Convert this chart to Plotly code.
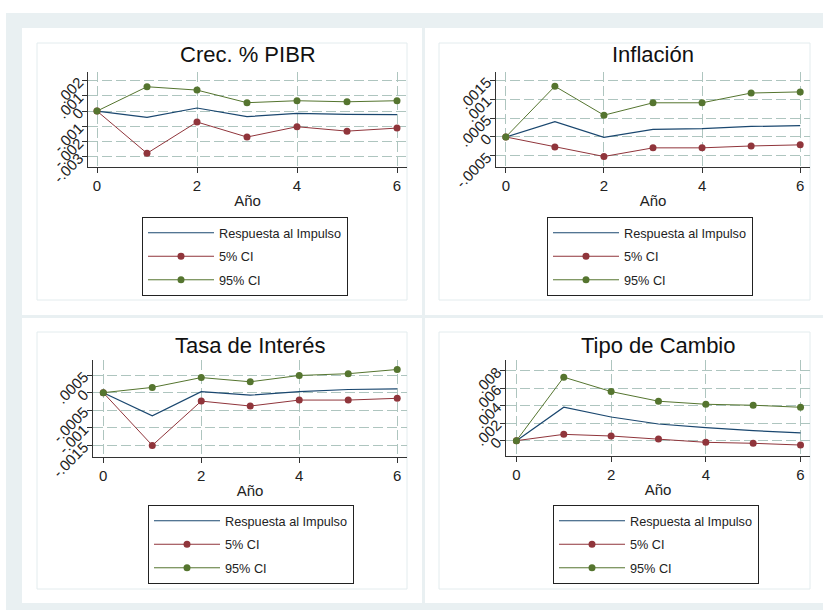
import plotly.graph_objects as go

# Horizon (years after the shock)
anos = [0, 1, 2, 3, 4, 5, 6]

# Crec. % PIBR
pib_irf = [0, -0.00041, 0.0002, -0.00037, -0.00015, -0.00022, -0.00023]
pib_lo = [0, -0.00278, -0.00072, -0.00171, -0.00103, -0.00132, -0.00112]
pib_hi = [0, 0.0016, 0.00138, 0.00055, 0.00068, 0.00061, 0.00068]

# Inflación
inf_irf = [0, 0.00041, -0.00001, 0.0002, 0.00022, 0.00028, 0.0003]
inf_lo = [0, -0.00027, -0.00052, -0.00029, -0.00029, -0.00024, -0.00021]
inf_hi = [0, 0.00135, 0.00058, 0.00091, 0.00091, 0.00117, 0.0012]

# Tasa de Interés
tasa_irf = [0, -0.00066, 0.00003, -0.00007, 0.00003, 0.00009, 0.00011]
tasa_lo = [0, -0.0015, -0.00024, -0.00038, -0.00021, -0.00021, -0.00016]
tasa_hi = [0, 0.00015, 0.00043, 0.00031, 0.00049, 0.00054, 0.00066]

# Tipo de Cambio
tc_irf = [0, 0.00381, 0.0027, 0.0019, 0.00149, 0.00114, 0.00088]
tc_lo = [0, 0.00072, 0.00053, 0.00019, -0.00019, -0.0003, -0.0005]
tc_hi = [0, 0.00724, 0.0056, 0.0045, 0.00415, 0.00404, 0.00381]

# Axis ticks
x_ticks = [0, 2, 4, 6]
pib_yvals = [0.002, 0.001, 0, -0.001, -0.002, -0.003]
pib_ytext = [".002", ".001", "0", "-.001", "-.002", "-.003"]
inf_yvals = [0.0015, 0.001, 0.0005, 0, -0.0005]
inf_ytext = [".0015", ".001", ".0005", "0", "-.0005"]
tasa_yvals = [0.0005, 0, -0.0005, -0.001, -0.0015]
tasa_ytext = [".0005", "0", "-.0005", "-.001", "-.0015"]
tc_yvals = [0.008, 0.006, 0.004, 0.002, 0]
tc_ytext = [".008", ".006", ".004", ".002", "0"]

titles = ["Crec. % PIBR", "Inflación", "Tasa de Interés", "Tipo de Cambio"]
series_names = ["Respuesta al Impulso", "5% CI", "95% CI"]

W, H = 823, 610
NAVY, MAROON, GREEN = "#1a476f", "#90353b", "#55752f"
GRID = "#aec5bf"
BG = "#e9f0f2"
FONT = "Arial, Liberation Sans, sans-serif"


def px_x(v):
    return v / W


def px_y(v):
    return 1 - v / H


# per-panel: data, y ticks, plot box (px), axis ranges, legend corner
panels = [
    dict(data=(pib_irf, pib_lo, pib_hi), yv=pib_yvals, yt=pib_ytext,
         box=(88, 407, 72, 167), xr=[-0.18, 6.2], yr=[-0.00368, 0.00257],
         leg=(142, 217)),
    dict(data=(inf_irf, inf_lo, inf_hi), yv=inf_yvals, yt=inf_ytext,
         box=(496, 810, 72, 167), xr=[-0.2, 6.2], yr=[-0.0008, 0.00173],
         leg=(547, 217)),
    dict(data=(tasa_irf, tasa_lo, tasa_hi), yv=tasa_yvals, yt=tasa_ytext,
         box=(93, 407, 360, 457), xr=[-0.21, 6.2], yr=[-0.00183, 0.00093],
         leg=(148, 505)),
    dict(data=(tc_irf, tc_lo, tc_hi), yv=tc_yvals, yt=tc_ytext,
         box=(506, 810, 360, 456), xr=[-0.22, 6.2], yr=[-0.00175, 0.0092],
         leg=(553, 505)),
]

fig = go.Figure()
layout = dict(
    width=W, height=H, margin=dict(l=0, r=0, t=0, b=0, autoexpand=False),
    paper_bgcolor="white", plot_bgcolor="white",
    font=dict(family=FONT, color="#222"),
    shapes=[], annotations=[],
)

# background frames of the combined graph
layout["shapes"].append(dict(type="rect", xref="paper", yref="paper",
                             x0=px_x(6), x1=1, y0=0, y1=px_y(13),
                             fillcolor=BG, line=dict(width=0), layer="below"))
for (x0, x1, y0, y1) in [(22, 422, 28, 315), (425, 823, 28, 315),
                         (22, 422, 318, 603), (425, 823, 318, 603)]:
    layout["shapes"].append(dict(type="rect", xref="paper", yref="paper",
                                 x0=px_x(x0), x1=px_x(x1), y0=px_y(y1), y1=px_y(y0),
                                 fillcolor="white", line=dict(width=0), layer="below"))
for (x0, x1, y0, y1) in [(37, 407, 43, 300), (439, 810, 43, 300),
                         (37, 407, 332, 589), (439, 810, 332, 589)]:
    layout["shapes"].append(dict(type="rect", xref="paper", yref="paper",
                                 x0=px_x(x0), x1=px_x(x1), y0=px_y(y1), y1=px_y(y0),
                                 fillcolor="rgba(0,0,0,0)",
                                 line=dict(width=1, color="#e3ecee"), layer="below"))

for i, p in enumerate(panels):
    k = i + 1
    xa = "x" if k == 1 else f"x{k}"
    ya = "y" if k == 1 else f"y{k}"
    leg = "legend" if k == 1 else f"legend{k}"
    irf, lo, hi = p["data"]
    fig.add_trace(go.Scatter(x=anos, y=irf, mode="lines", name=series_names[0],
                             line=dict(color=NAVY, width=1.2),
                             xaxis=xa, yaxis=ya, legend=leg,
                             legendgroup=f"g{k}a"))
    fig.add_trace(go.Scatter(x=anos, y=lo, mode="lines+markers", name=series_names[1],
                             line=dict(color=MAROON, width=1),
                             marker=dict(color=MAROON, size=7),
                             xaxis=xa, yaxis=ya, legend=leg,
                             legendgroup=f"g{k}b"))
    fig.add_trace(go.Scatter(x=anos, y=hi, mode="lines+markers", name=series_names[2],
                             line=dict(color=GREEN, width=1),
                             marker=dict(color=GREEN, size=7),
                             xaxis=xa, yaxis=ya, legend=leg,
                             legendgroup=f"g{k}c"))

    bx0, bx1, by0, by1 = p["box"]
    axis_common = dict(showline=True, linecolor="#333", linewidth=1, mirror=False,
                       ticks="outside", ticklen=5, tickcolor="#333", tickwidth=1,
                       showgrid=True, gridcolor=GRID, gridwidth=1, griddash="10px,4px",
                       zeroline=False, automargin=False,
                       tickfont=dict(size=15, color="#222"))
    xname = "xaxis" if k == 1 else f"xaxis{k}"
    yname = "yaxis" if k == 1 else f"yaxis{k}"
    layout[xname] = dict(axis_common, domain=[px_x(bx0), px_x(bx1)], range=p["xr"],
                         tickvals=x_ticks, anchor=ya,
                         title=dict(text="Año", font=dict(size=15, color="#222"), standoff=2))
    layout[yname] = dict(axis_common, domain=[px_y(by1), px_y(by0)], range=p["yr"],
                         tickvals=p["yv"], ticktext=p["yt"], tickangle=-45, anchor=xa)

    layout["annotations"].append(dict(text=titles[i], xref="paper", yref="paper",
                                      x=px_x((bx0 + bx1) / 2),
                                      y=px_y(55 if k <= 2 else 345),
                                      xanchor="center", yanchor="middle", showarrow=False,
                                      font=dict(size=22, color="#111")))
    lx, ly = p["leg"]
    layout[leg] = dict(x=px_x(lx), y=px_y(ly), xanchor="left", yanchor="top",
                       bgcolor="white", bordercolor="#222", borderwidth=1,
                       font=dict(size=12.7, color="#222"), itemwidth=66,
                       tracegroupgap=4, traceorder="grouped")

fig.update_layout(**layout)
fig.write_html("out.html")
